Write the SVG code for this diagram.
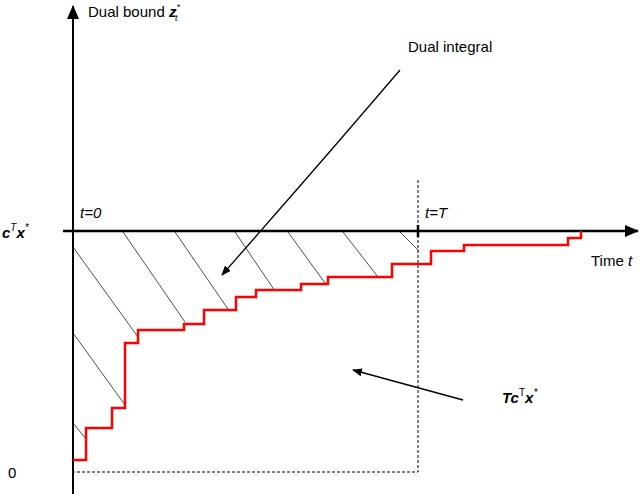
<svg xmlns="http://www.w3.org/2000/svg" width="640" height="494" viewBox="0 0 640 494">
<style>
text{font-family:"Liberation Sans",Arial,sans-serif;font-size:15px;fill:#000}
.it{font-style:italic}
.b{font-weight:bold;font-style:italic}
.h{stroke:#000;stroke-width:0.7;fill:none}
.d{stroke:#000;stroke-width:1;stroke-dasharray:3,2;fill:none}
</style>
<defs>
<marker id="ah" markerWidth="10" markerHeight="8" refX="9" refY="4" orient="auto" markerUnits="userSpaceOnUse"><path d="M0,0 L10,4 L0,8 z" fill="#000"/></marker>
<marker id="big" markerWidth="14" markerHeight="12" refX="13" refY="6" orient="auto" markerUnits="userSpaceOnUse"><path d="M0,0 L14,6 L0,12 z" fill="#000"/></marker>
</defs>
<g id="hatch">
<path class="h" d="M123,232 L185,322 M175,232 L228,309 M235,232 L275,291 M288,232 L325,283 M343,232 L378,277 M400,232 L419,251 M73,247 L138,337 M73,333 L125,405 M73,423 L86,439"/>
</g>
<g id="guides">
<path class="d" d="M418,180 V472 H73"/>
</g>
<g id="axes">
<line x1="73" y1="494" x2="73" y2="6" stroke="#000" stroke-width="2" marker-end="url(#big)"/>
<line x1="63" y1="231" x2="638" y2="231" stroke="#000" stroke-width="2.5" marker-end="url(#big)"/>
<line x1="418" y1="225" x2="418" y2="237" stroke="#000" stroke-width="2.5"/>
</g>
<g id="staircase">
<path fill="none" stroke="#ff0000" stroke-width="2.5" d="M73,460 H86 V428 H112 V408 H125 V343 H138 V330 H184 V324 H204 V310 H236 V297 H256 V290 H301 V284 H328 V277 H392 V264 H431 V251 H464 V245 H568 V238 H581 V231"/>
</g>
<g id="connectors">
<path d="M400,70 Q318,166 222,275" fill="none" stroke="#000" stroke-width="1.3" marker-end="url(#ah)"/>
<path d="M463,400 L353,370" fill="none" stroke="#000" stroke-width="1.3" marker-end="url(#ah)"/>
</g>
<g id="labels">
<text x="88" y="17">Dual bound <tspan class="b">z</tspan><tspan class="it" font-size="9" dy="-7">*</tspan><tspan class="it" font-size="9" dx="-5" dy="11">t</tspan></text>
<text x="2" y="238" class="b" font-size="16">c<tspan font-size="10" dy="-7" font-weight="normal">T</tspan><tspan dy="7">x</tspan><tspan font-size="10" dy="-7" font-weight="normal">*</tspan></text>
<text x="80" y="218" class="it" font-size="14">t=0</text>
<text x="425" y="218" class="it" font-size="14">t=T</text>
<text x="591" y="266">Time <tspan class="it">t</tspan></text>
<text x="408" y="52">Dual integral</text>
<text x="502" y="403" class="b" font-size="16">Tc<tspan font-size="10" dy="-7" font-weight="normal" font-style="normal">T</tspan><tspan dy="7">x</tspan><tspan font-size="10" dy="-7" font-weight="normal">*</tspan></text>
<text x="8" y="478">0</text>
</g>
</svg>
